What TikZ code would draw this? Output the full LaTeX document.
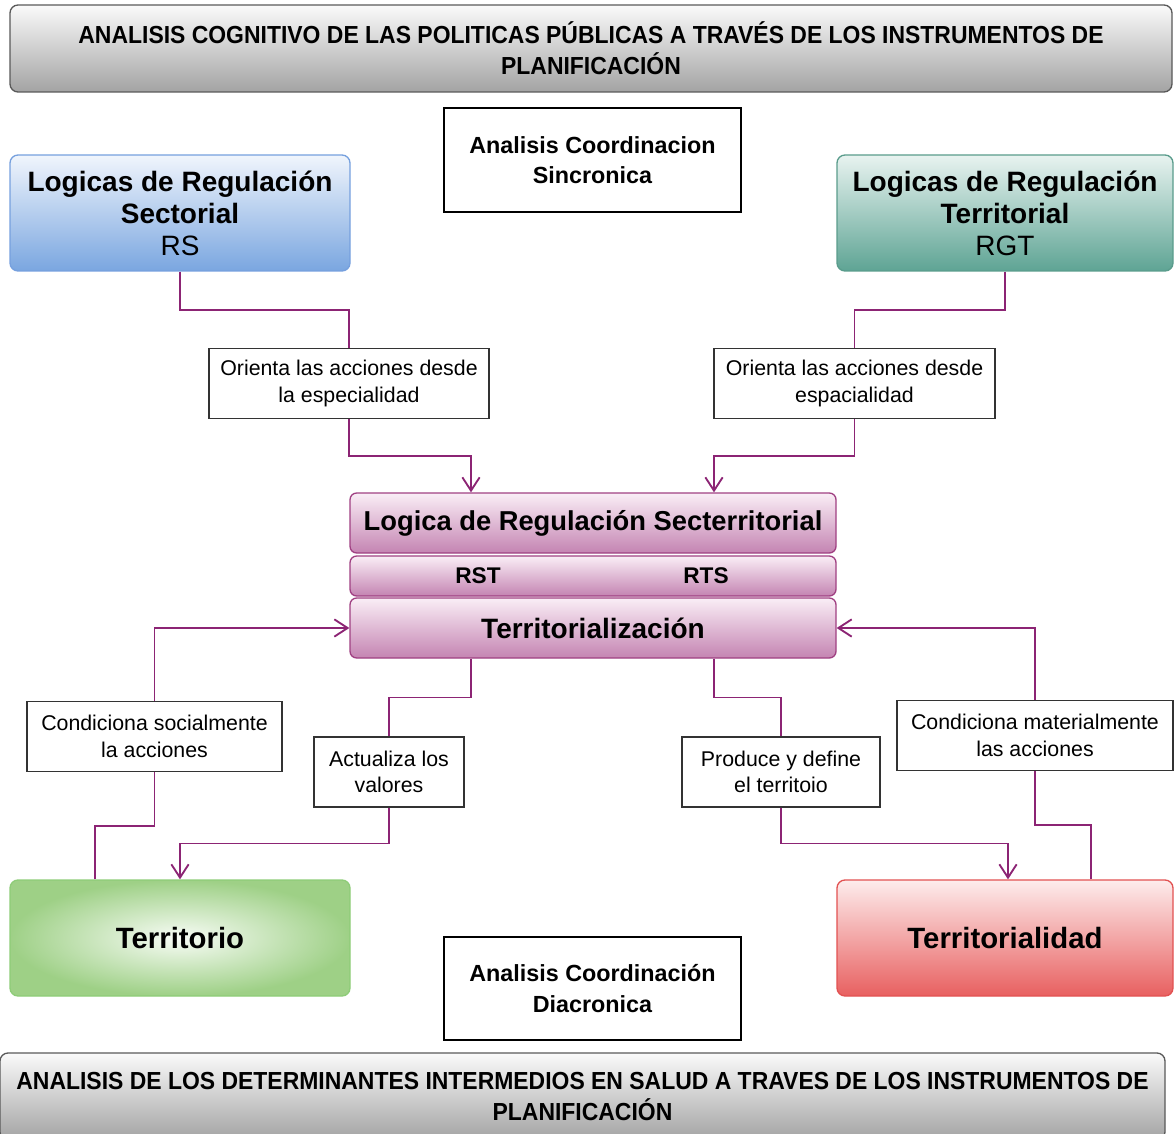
\documentclass[tikz,border=0pt]{standalone}
\usepackage{fontspec}
\setmainfont{Liberation Sans}
\newfontfamily\bannerfont[FakeStretch=0.93]{Liberation Sans}
\usepackage{xcolor}
\usepackage{tikz}
\usetikzlibrary{positioning}
\usetikzlibrary{arrows.meta,calc}
\definecolor{conncol}{RGB}{140,36,116}
\definecolor{purpline}{RGB}{160,64,130}
\definecolor{purptop}{RGB}{250,238,246}
\definecolor{purpbot}{RGB}{196,132,178}
\definecolor{bluetop}{RGB}{240,245,252}
\definecolor{bluebot}{RGB}{122,166,224}
\definecolor{blueline}{RGB}{118,160,222}
\definecolor{tealtop}{RGB}{232,243,240}
\definecolor{tealbot}{RGB}{94,164,148}
\definecolor{tealline}{RGB}{90,156,140}
\definecolor{greenin}{RGB}{248,252,246}
\definecolor{greenout}{RGB}{158,208,134}
\definecolor{greenline}{RGB}{142,204,120}
\definecolor{redtop}{RGB}{253,236,236}
\definecolor{redbot}{RGB}{232,96,96}
\definecolor{redline}{RGB}{226,82,82}
\def\u{0.75pt}
\tikzstyle{banner}=[rectangle,rounded corners=6pt,draw=black!65,line width=1pt,top color=black!2,bottom color=black!36,align=center,inner sep=0pt,font=\bannerfont\bfseries\fontsize{18.5}{23}\selectfont]
\tikzstyle{coordbox}=[rectangle,draw=black,line width=2.2pt,fill=white,align=center,inner sep=0pt,font=\bfseries\fontsize{17.5}{23}\selectfont]
\tikzstyle{lbl}=[rectangle,draw=black!80,line width=1pt,fill=white,align=center,inner sep=0pt,font=\fontsize{16}{20}\selectfont]
\tikzstyle{logic}=[rectangle,rounded corners=6pt,line width=1pt,align=center,inner sep=0pt,font=\fontsize{21}{24}\selectfont]
\tikzstyle{stack}=[rectangle,rounded corners=5pt,draw=purpline,line width=1pt,top color=purptop,bottom color=purpbot,align=center,inner sep=0pt]
\tikzstyle{conn}=[draw,conncol,line width=1.4pt]
\tikzstyle{arr}=[conn,-{Straight Barb[length=10pt,width=13pt]}]

\begin{document}
\begin{tikzpicture}[x=\u,y=-\u]

  \useasboundingbox (0,0) rectangle (1174,1134);

  % banners
  \node[banner,minimum width=1162*\u,minimum height=87*\u] (banTop) at (591,48.5)
       {ANALISIS COGNITIVO DE LAS POLITICAS PÚBLICAS A TRAVÉS DE LOS INSTRUMENTOS DE\\PLANIFICACIÓN};
  \node[banner,minimum width=1165*\u,minimum height=87*\u] (banBot) at (582.5,1096.5)
       {ANALISIS DE LOS DETERMINANTES INTERMEDIOS EN SALUD A TRAVES DE LOS INSTRUMENTOS DE\\PLANIFICACIÓN};

  \node[coordbox,minimum width=297*\u,minimum height=104*\u] (sinc) at (592.5,160) {Analisis Coordinacion\\Sincronica};
  \node[coordbox,minimum width=297*\u,minimum height=103*\u] (diac) at (592.5,988.5) {Analisis Coordinación\\Diacronica};

  % logicas
  \node[logic,draw=blueline,top color=bluetop,bottom color=bluebot,minimum width=340*\u,minimum height=116*\u] (RS) at (180,213)
       {\textbf{Logicas de Regulación}\\\textbf{Sectorial}\\RS};
  \node[logic,draw=tealline,top color=tealtop,bottom color=tealbot,minimum width=336*\u,minimum height=116*\u] (RGT) at (1005,213)
       {\textbf{Logicas de Regulación}\\\textbf{Territorial}\\RGT};

  \node[logic,draw=greenline,inner color=greenin,outer color=greenout,minimum width=340*\u,minimum height=116*\u,font=\bfseries\fontsize{22}{24}\selectfont] (terri) at (180,938) {Territorio};
  \node[logic,draw=redline,top color=redtop,bottom color=redbot,minimum width=336*\u,minimum height=116*\u,font=\bfseries\fontsize{22}{24}\selectfont] (terrid) at (1005,938) {Territorialidad};

  % secterritorial
  \node[stack,minimum width=486*\u,minimum height=60*\u,font=\bfseries\fontsize{20.5}{24}\selectfont] (sec) at (593,523) {Logica de Regulación Secterritorial};
  \node[stack,minimum width=486*\u,minimum height=40*\u] (rst) at (593,576) {};
  \node[stack,minimum width=486*\u,minimum height=60*\u,font=\bfseries\fontsize{21}{24}\selectfont] (terr) at (593,628) {Territorialización};
  \node[font=\bfseries\fontsize{17}{20}\selectfont] (rstL) at (478,576) {RST};
  \node[font=\bfseries\fontsize{17}{20}\selectfont] (rtsL) at (706,576) {RTS};

  % labels
  \foreach \x/\y/\w/\name/\label in {349/383.5/280/oriL/{Orienta las acciones desde\\la especialidad},
                                     854.5/383.5/281/oriR/{Orienta las acciones desde\\espacialidad},
                                     154.5/736.5/255/condS/{Condiciona socialmente\\la acciones},
                                     1035/735.5/276/condM/{Condiciona materialmente\\las acciones},
                                     389/772/150/actu/{Actualiza los\\valores},
                                     781/772/198/prod/{Produce y define\\el territoio}}
          \node[lbl,minimum width=\w*\u,minimum height=70*\u] (\name) at (\x,\y) {\label};

  \coordinate (inL) at ($(sec.north)+(-122,0)$);
  \coordinate (inR) at ($(sec.north)+(121,0)$);
  \coordinate (outL) at ($(terr.south)+(-122,0)$);
  \coordinate (outR) at ($(terr.south)+(121,0)$);
  \coordinate (terriOut) at ($(terri.north)+(-85,0)$);
  \coordinate (terridIn) at ($(terrid.north)+(3,0)$);
  \coordinate (terridOut) at ($(terrid.north)+(86,0)$);

  % connectors
  \path[conn] (RS.south) |- ($(RS.south)!.5!(oriL.north)$) -| (oriL.north);
  \path[arr] (oriL.south) |- ($(oriL.south)!.5!(inL)$) -| (inL);
  \path[conn] (RGT.south) |- ($(RGT.south)!.5!(oriR.north)$) -| (oriR.north);
  \path[arr] (oriR.south) |- ($(oriR.south)!.5!(inR)$) -| (inR);

  \path[arr] (condS.north) |- (terr.west);
  \path[conn] (terriOut) |- ($(terriOut)!.5!(condS.south)$) -| (condS.south);
  \path[conn] (outL) |- ($(outL)!.5!(actu.north)$) -| (actu.north);
  \path[arr] (actu.south) |- ($(actu.south)!.5!(terri.north)$) -| (terri.north);

  \path[conn] (outR) |- ($(outR)!.5!(prod.north)$) -| (prod.north);
  \path[arr] (prod.south) |- ($(prod.south)!.5!(terridIn)$) -| (terridIn);
  \path[arr] (condM.north) |- (terr.east);
  \path[conn] (terridOut) |- ($(terridOut)!.5!(condM.south)$) -| (condM.south);

\end{tikzpicture}
\end{document}
